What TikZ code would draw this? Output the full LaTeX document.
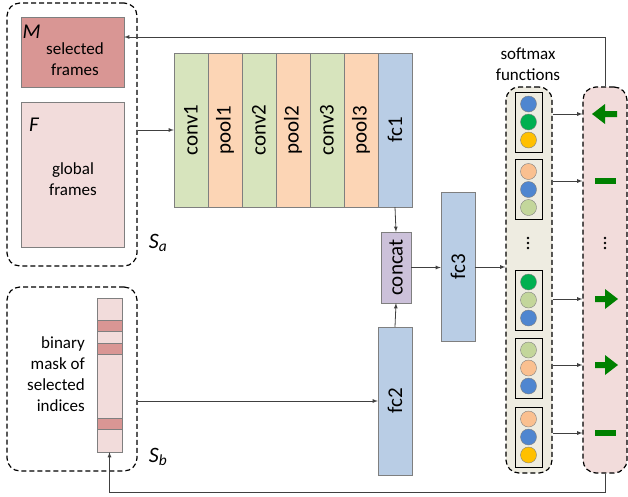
\documentclass[tikz,border=0pt]{standalone}
\usepackage{fontspec}
\setmainfont{Carlito}
\usepackage{color}
\usepackage{tikz}
\definecolor{selred}{HTML}{D99694}
\definecolor{lightpink}{HTML}{F2DCDB}
\definecolor{convgreen}{HTML}{D7E4BD}
\definecolor{poolpeach}{HTML}{FCD5B5}
\definecolor{fcblue}{HTML}{B9CDE5}
\definecolor{catpurple}{HTML}{CCC1DA}
\definecolor{smgray}{HTML}{EEECE1}
\definecolor{ballblue}{HTML}{4F86D0}
\definecolor{ballgreen}{HTML}{00B050}
\definecolor{ballyellow}{HTML}{FFC000}
\definecolor{ballpeach}{HTML}{FAC090}
\definecolor{balllime}{HTML}{C3D69B}
\definecolor{arrowgreen}{HTML}{008000}
\definecolor{edgegray}{HTML}{7F7F7F}
\definecolor{linkgray}{HTML}{404040}
\tikzset{
  font={\fontsize{17pt}{21pt}\selectfont},
  bigfont/.style={font={\fontsize{21pt}{24pt}\selectfont}},
  layer/.style={draw=edgegray, minimum width=34pt, minimum height=154pt},
  group/.style={draw=black, line width=1.2pt, dash pattern=on 5pt off 3pt, rounded corners=13pt},
  ball/.style={circle, draw=edgegray, minimum size=16pt},
  smbox/.style={draw=black, line width=0.9pt, minimum width=27pt, minimum height=60pt},
  link/.style={draw=linkgray, line width=0.8pt, ->, >=latex}}

\begin{document}
\begin{tikzpicture}[x=1pt,y=1pt]
\tikzstyle{every node}+=[inner sep=0pt]
\useasboundingbox (0,0) rectangle (628,-496);
% frames S_a
\node [group, minimum width=130pt, minimum height=263pt] (Sa) at (72,-134.5) {};
\node [draw=edgegray, fill=selred, minimum width=103pt, minimum height=70pt] (sel) at (72.5,-52) {};
\node (seltxt) at (75,-59.5) [align=center] {selected\\frames};
\node (mlbl) at (31.5,-32) {\fontsize{21pt}{22pt}\selectfont\itshape M};
\node [draw=edgegray, fill=lightpink, minimum width=103pt, minimum height=145pt] (glob) at (72.5,-174.5) {};
\node (globtxt) at (73,-179) [align=center] {global\\frames};
\node (flbl) at (34,-125) {\fontsize{21pt}{22pt}\selectfont\itshape F};
\node (salbl) at (158,-243) {\fontsize{22pt}{26pt}\selectfont\itshape S\textsubscript{a}};
% mask S_b
\node [group, minimum width=130pt, minimum height=184pt] (Sb) at (72,-379) {};
\node [draw=edgegray, fill=lightpink, minimum width=25pt, minimum height=154pt] (mask) at (109.5,-375) {};
\draw [edgegray, fill=selred] (97,-320) rectangle (122,-331);
\draw [edgegray, fill=selred] (97,-343) rectangle (122,-354);
\draw [edgegray, fill=selred] (97,-418) rectangle (122,-429);
\node (masktxt) at (85,-374) [anchor=east, align=right] {binary\\mask of\\selected\\indices};
\node (sblbl) at (158,-457) {\fontsize{22pt}{26pt}\selectfont\itshape S\textsubscript{b}};
% network
\foreach \i/\name/\col in {0/conv1/convgreen,1/pool1/poolpeach,2/conv2/convgreen,3/pool2/poolpeach,4/conv3/convgreen,5/pool3/poolpeach,6/fc1/fcblue}
{
  \node [layer, fill=\col] (l\i) at ({191+34*\i},-130) {};
  \node [bigfont, rotate=90] (l\i txt) at (l\i) {\name};
}
\node [draw=edgegray, fill=catpurple, minimum width=30pt, minimum height=71pt] (cat) at (396,-267.5) {};
\node [bigfont, rotate=90] (cattxt) at (cat) {concat};
\node [layer, fill=fcblue, minimum height=148pt] (fc2) at (395,-401) {};
\node [bigfont, rotate=90] (fc2txt) at (fc2) {fc2};
\node [layer, fill=fcblue, minimum height=149pt] (fc3) at (458,-267) {};
\node [bigfont, rotate=90] (fc3txt) at (fc3) {fc3};
% softmax functions
\node (smtxt) at (528,-64.5) [align=center] {softmax\\functions};
\node [group, fill=smgray, minimum width=46pt, minimum height=386pt] (smframe) at (529,-280) {};
\foreach \j/\y/\a/\b/\c in {1/122/ballblue/ballgreen/ballyellow,2/189.5/ballpeach/ballblue/balllime,3/300/ballgreen/balllime/ballblue,4/368/balllime/ballpeach/ballblue,5/437/ballpeach/ballblue/ballyellow}
{
  \node [smbox] (sm\j) at (528.5,-\y) {};
  \node [ball, fill=\a] (sm\j a) at (528.5,{18-\y}) {};
  \node [ball, fill=\b] (sm\j b) at (528.5,-\y) {};
  \node [ball, fill=\c] (sm\j c) at (528.5,{-18-\y}) {};
}
% outputs
\node [group, fill=lightpink, minimum width=44pt, minimum height=386pt] (outframe) at (605,-280) {};
\coordinate (o1) at (605,-114);
\coordinate (o2) at (605,-181);
\coordinate (o3) at (605,-243);
\coordinate (o4) at (605,-299);
\coordinate (o5) at (605,-365);
\coordinate (o6) at (605,-433);
\fill [arrowgreen, shift={(o1)}] (-13,0) -- (0,10) -- (0,3) -- (12,3) -- (12,-3) -- (0,-3) -- (0,-10) -- cycle;
\fill [arrowgreen, shift={(o2)}] (-10.5,-3) rectangle (10.5,3);
\fill [arrowgreen, shift={(o4)}] (13,0) -- (0,10) -- (0,3) -- (-10,3) -- (-10,-3) -- (0,-3) -- (0,-10) -- cycle;
\fill [arrowgreen, shift={(o5)}] (13,0) -- (0,10) -- (0,3) -- (-10,3) -- (-10,-3) -- (0,-3) -- (0,-10) -- cycle;
\fill [arrowgreen, shift={(o6)}] (-10.5,-3) rectangle (10.5,3);
\foreach \d in {-5,0,5}
{
  \fill [black] (528,{-243+\d}) circle (1.3);
  \fill [black] (605,{-243+\d}) circle (1.3);
}
% connectors
\draw [link] (Sa.east |- l0.west) -- (l0.west);
\draw [link] (l6.south) -- (cat.north);
\draw [link] (fc2.north) -- (cat.south);
\draw [link] (cat.east) -- (cat.east -| fc3.west);
\draw [link] (fc3.east) -- (fc3.east -| smframe.west);
\draw [link] (Sb.east |- fc2.west) -- (fc2.west);
\foreach \k in {1,2,4,5,6}
  \draw [link] (smframe.east |- o\k) -- (outframe.west |- o\k);
\draw [link] (outframe.north) |- ([yshift=15pt]sel.east);
\draw [link] (outframe.south) -- ++(0,-19) -| (mask.south);
\end{tikzpicture}
\end{document}
